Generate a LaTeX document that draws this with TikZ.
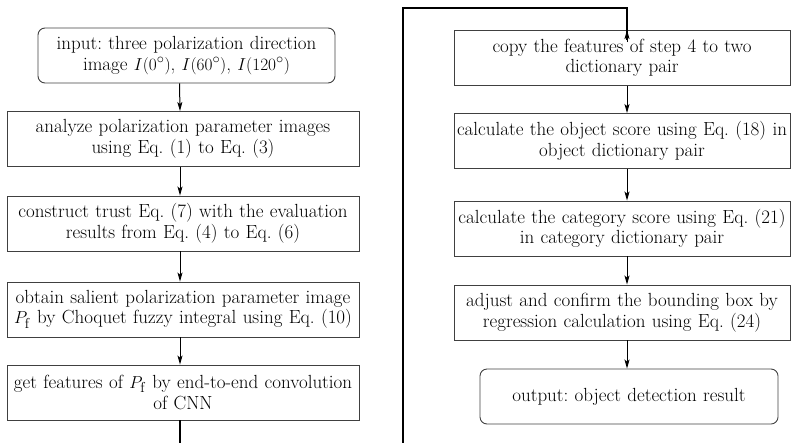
\documentclass[tikz,border=0pt]{standalone}
\usetikzlibrary{arrows.meta}
\begin{document}
\frenchspacing
\tikzset{
 box/.style={draw=black!75, line width=0.9pt, minimum height=55pt, inner sep=1pt, align=center, font=\fontsize{19}{20.5}\selectfont},
 rbox/.style={box, rounded corners=7pt},
 arr/.style={-{Stealth[length=9pt,width=5pt,inset=2pt]}, line width=1pt},
 route/.style={line width=1.8pt}
}
\begin{tikzpicture}[x=1pt,y=-1pt]
\useasboundingbox (0,0) rectangle (791,442);
% left column
\node[rbox, minimum width=297pt, text width=295pt] (in) at (186.5,55.5) {input: three polarization direction\\image $I(0^\circ)$, $I(60^\circ)$, $I(120^\circ)$};
\node[box, minimum width=352pt, text width=350pt] (b1) at (183,139) {analyze polarization parameter images\\using Eq. (1) to Eq. (3)};
\node[box, minimum width=352pt, text width=350pt] (b2) at (183,223.5) {construct trust Eq. (7) with the evaluation\\results from Eq. (4) to Eq. (6)};
\node[box, minimum width=352pt, text width=350pt] (b3) at (183,309.5) {obtain salient polarization parameter image\\$P_{\mathrm f}$ by Choquet fuzzy integral using Eq. (10)};
\node[box, minimum width=352pt, text width=350pt] (b4) at (183,392.5) {get features of $P_{\mathrm f}$ by end-to-end convolution\\of CNN};
% right column
\node[box, minimum width=336pt, text width=334pt] (r1) at (622,58) {copy the features of step 4 to two\\dictionary pair};
\node[box, minimum width=336pt, text width=334pt] (r2) at (622,141) {calculate the object score using Eq. (18) in\\object dictionary pair};
\node[box, minimum width=336pt, text width=334pt] (r3) at (622,228.5) {calculate the category score using Eq. (21)\\in category dictionary pair};
\node[box, minimum width=336pt, text width=334pt] (r4) at (622,312.5) {adjust and confirm the bounding box by\\regression calculation using Eq. (24)};
\node[rbox, minimum width=298pt, text width=296pt] (out) at (629,396.5) {output: object detection result};
% arrows
\draw[arr] ([xshift=-7pt]in.south) -- ([xshift=-3pt]b1.north);
\draw[arr] ([xshift=-3pt]b1.south) -- ([xshift=-3pt]b2.north);
\draw[arr] ([xshift=-3pt]b2.south) -- ([xshift=-3pt]b3.north);
\draw[arr] ([xshift=-3pt]b3.south) -- ([xshift=-3pt]b4.north);
\draw[arr] ([xshift=5pt]r1.south) -- ([xshift=5pt]r2.north);
\draw[arr] ([xshift=5pt]r2.south) -- ([xshift=5pt]r3.north);
\draw[arr] ([xshift=5pt]r3.south) -- ([xshift=5pt]r4.north);
\draw[arr] ([xshift=5pt]r4.south) -- ([xshift=-2pt]out.north);
% long connector
\coordinate (c1) at (403,443.6);
\coordinate (c2) at (403,8.3);
\draw[route] ([xshift=-3pt]b4.south) |- (c1) -- (c2) -| ([xshift=5pt,yshift=-10pt]r1.north);
\draw[arr] ([xshift=5pt,yshift=-12pt]r1.north) -- ([xshift=5pt]r1.north);
\end{tikzpicture}
\end{document}
